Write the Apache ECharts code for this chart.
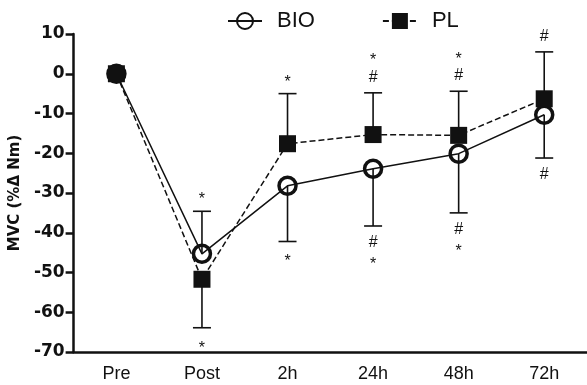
<!DOCTYPE html>
<html>
<head>
<meta charset="utf-8">
<script src="https://cdn.jsdelivr.net/npm/echarts@6/dist/echarts.min.js"></script>
<style>
  html, body { margin: 0; padding: 0; background: #fff; }
  #chart { width: 587px; height: 385px; }
</style>
</head>
<body>
<div id="chart"></div>
<script>
// Time points and group means (MVC, % change in Nm)
const categories = ['Pre', 'Post', '2h', '24h', '48h', '72h'];
const bioMean = [0, -45.3, -28.2, -23.9, -20.1, -10.3];
const plMean = [0, -51.7, -17.6, -15.3, -15.5, -6.3];
// One-sided SD bar ends for each group
const bioErrEnd = [null, -34.6, -42.2, -38.3, -35.0, -21.2];
const plErrEnd = [null, -63.9, -5.0, -4.8, -4.4, 5.5];
// Significance marks over / under the bars (nearest to the bar first)
const marksAbove = [[], ['*'], ['*'], ['#', '*'], ['#', '*'], ['#']];
const marksBelow = [[], ['*'], ['*'], ['#', '*'], ['#', '*'], ['#']];
// Axis ticks
const yTicks = { min: -70, max: 10, interval: 10 };

const FONT = '"Liberation Sans", Arial, sans-serif';
const FONT_BOLD = '"DejaVu Sans", sans-serif';
const INK = '#111';

function errData(means, ends) {
  const out = [];
  for (let i = 0; i < means.length; i++) {
    if (ends[i] !== null) out.push([i, means[i], ends[i]]);
  }
  return out;
}

function renderErr(params, api) {
  const x = api.value(0);
  const p0 = api.coord([x, api.value(1)]);
  const p1 = api.coord([x, api.value(2)]);
  const half = 9;
  const st = { stroke: INK, lineWidth: 1.6 };
  return {
    type: 'group',
    children: [
      { type: 'line', shape: { x1: p0[0], y1: p0[1], x2: p1[0], y2: p1[1] }, style: st },
      { type: 'line', shape: { x1: p1[0] - half, y1: p1[1], x2: p1[0] + half, y2: p1[1] }, style: st }
    ]
  };
}

// anchor points for the marks: the outermost bar end at each time point
const markData = [];
for (let i = 0; i < categories.length; i++) {
  const vals = [bioMean[i], plMean[i]];
  if (bioErrEnd[i] !== null) vals.push(bioErrEnd[i]);
  if (plErrEnd[i] !== null) vals.push(plErrEnd[i]);
  markData.push([i, Math.max.apply(null, vals), Math.min.apply(null, vals)]);
}

// visual distance of the 1st / 2nd mark from the bar cap
const NEAR = 16.5, FAR = 36;
function markText(ch, x, y) {
  // the asterisk glyph sits high in its em box, so nudge it down
  const dy = ch === '*' ? 4 : 0;
  return {
    type: 'text', x: x, y: y + dy,
    style: {
      text: ch, fill: INK,
      font: '16px ' + FONT,
      align: 'center', verticalAlign: 'middle'
    }
  };
}
function renderMarks(params, api) {
  const i = api.value(0);
  const top = api.coord([i, api.value(1)]);
  const bot = api.coord([i, api.value(2)]);
  const children = [];
  marksAbove[i].forEach(function (ch, k) {
    children.push(markText(ch, top[0], top[1] - (k === 0 ? NEAR - 1 : FAR)));
  });
  marksBelow[i].forEach(function (ch, k) {
    children.push(markText(ch, bot[0], bot[1] + (k === 0 ? NEAR : FAR - 1)));
  });
  return { type: 'group', children: children };
}

// Pre is plotted as a filled marker
const bioData = bioMean.map(function (v, i) {
  return i === 0 ? { value: v, itemStyle: { color: INK } } : v;
});

const chart = echarts.init(document.getElementById('chart'), null, { renderer: 'canvas' });
chart.setOption({
  animation: false,
  backgroundColor: '#fff',
  grid: { left: 71.5, right: -5.5, top: 34, bottom: 33 },
  legend: {
    left: 222, top: 5,
    itemWidth: 34, itemHeight: 20, itemGap: 67,
    textStyle: { fontFamily: FONT, fontSize: 22, color: INK, padding: [0, 0, 0, 10] },
    data: ['BIO', 'PL']
  },
  xAxis: {
    type: 'category',
    data: categories,
    boundaryGap: true,
    axisLine: { onZero: false, lineStyle: { color: INK, width: 2.5 } },
    axisTick: { alignWithLabel: true, length: 8, lineStyle: { color: INK, width: 2.5 } },
    axisLabel: { fontFamily: FONT, fontSize: 18, color: INK, margin: 13 },
    splitLine: { show: false }
  },
  yAxis: {
    type: 'value',
    min: yTicks.min, max: yTicks.max, interval: yTicks.interval,
    name: 'MVC (%\u0394 Nm)',
    nameLocation: 'middle',
    nameGap: 50,
    nameTextStyle: { fontFamily: FONT_BOLD, fontSize: 15, fontWeight: 'bold', color: INK },
    axisLine: { show: true, lineStyle: { color: INK, width: 2.5 } },
    axisTick: { show: true, length: 8, lineStyle: { color: INK, width: 2.5 } },
    axisLabel: { fontFamily: FONT_BOLD, fontSize: 17, fontWeight: 'bold', color: INK, margin: 9 },
    splitLine: { show: false }
  },
  series: [
    {
      type: 'custom', name: 'bioErr', renderItem: renderErr,
      data: errData(bioMean, bioErrEnd), z: 1, silent: true
    },
    {
      type: 'custom', name: 'plErr', renderItem: renderErr,
      data: errData(plMean, plErrEnd), z: 1, silent: true
    },
    {
      type: 'custom', name: 'marks', renderItem: renderMarks,
      data: markData, z: 1, silent: true
    },
    {
      name: 'BIO', type: 'line', data: bioData, z: 3,
      symbol: 'circle', symbolSize: 17,
      lineStyle: { color: INK, width: 1.5, type: 'solid' },
      itemStyle: { color: 'rgba(255,255,255,0)', borderColor: INK, borderWidth: 3.5 }
    },
    {
      name: 'PL', type: 'line', data: plMean, z: 4,
      symbol: 'rect', symbolSize: 17,
      lineStyle: { color: INK, width: 1.5, type: [6, 3] },
      itemStyle: { color: INK, borderColor: INK, borderWidth: 0 }
    }
  ]
});
</script>
</body>
</html>
